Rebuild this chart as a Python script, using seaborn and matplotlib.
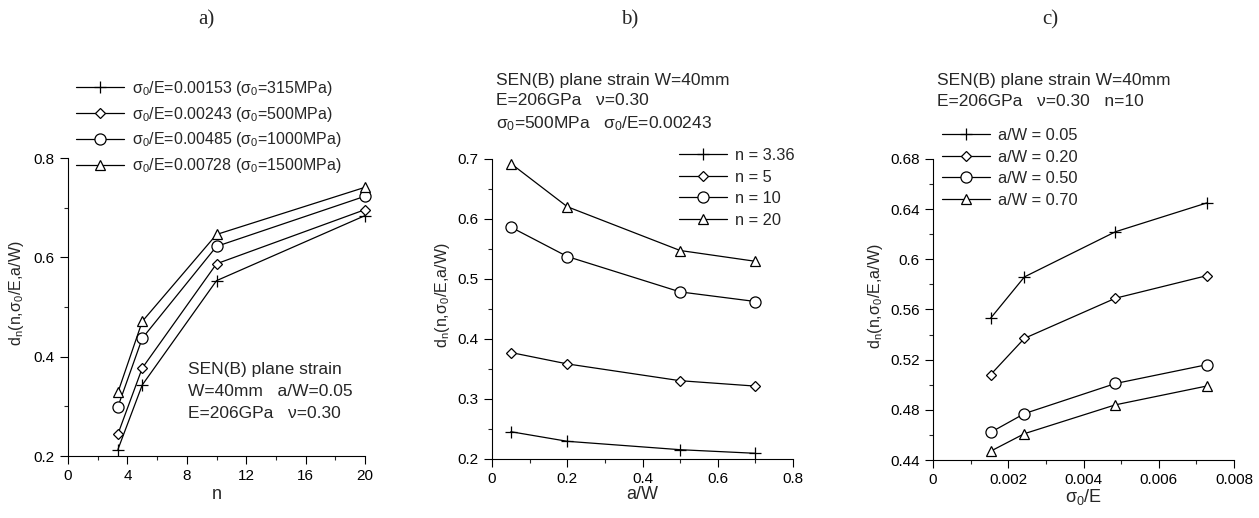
import matplotlib
matplotlib.use("Agg")
import matplotlib.pyplot as plt
from matplotlib.ticker import MultipleLocator, FormatStrFormatter
import seaborn as sns

sns.set_style("ticks")
plt.rcParams['font.family'] = ['Liberation Sans', 'DejaVu Sans']
plt.rcParams['mathtext.fontset'] = 'custom'
plt.rcParams['mathtext.rm'] = 'Liberation Sans'
plt.rcParams['mathtext.it'] = 'Liberation Sans:italic'
plt.rcParams['mathtext.default'] = 'regular'

# panel a: d_n vs n for several sigma0/E
n_vals = [3.36, 5, 10, 20]
a_labels = [r'$\sigma_0$/E=0.00153 ($\sigma_0$=315MPa)',
            r'$\sigma_0$/E=0.00243 ($\sigma_0$=500MPa)',
            r'$\sigma_0$/E=0.00485 ($\sigma_0$=1000MPa)',
            r'$\sigma_0$/E=0.00728 ($\sigma_0$=1500MPa)']
a_s1 = [0.213, 0.343, 0.553, 0.684]
a_s2 = [0.244, 0.377, 0.587, 0.696]
a_s3 = [0.299, 0.437, 0.622, 0.723]
a_s4 = [0.328, 0.471, 0.646, 0.741]

# panel b: d_n vs a/W for several n
aw_vals = [0.05, 0.2, 0.5, 0.7]
b_labels = ['n = 3.36', 'n = 5', 'n = 10', 'n = 20']
b_s1 = [0.245, 0.229, 0.215, 0.209]
b_s2 = [0.377, 0.358, 0.330, 0.321]
b_s3 = [0.586, 0.537, 0.478, 0.462]
b_s4 = [0.692, 0.620, 0.547, 0.529]

# panel c: d_n vs sigma0/E for several a/W
se_vals = [0.00153, 0.00243, 0.00485, 0.00728]
c_labels = ['a/W = 0.05', 'a/W = 0.20', 'a/W = 0.50', 'a/W = 0.70']
c_s1 = [0.553, 0.586, 0.622, 0.645]
c_s2 = [0.508, 0.537, 0.569, 0.587]
c_s3 = [0.462, 0.477, 0.501, 0.516]
c_s4 = [0.447, 0.461, 0.484, 0.499]

markers = ['+', 'D', 'o', '^']
msizes = [9, 5, 8, 7]
ylab = r'd$_n$(n,$\sigma_0$/E,a/W)'

W, H = 1259, 518
fig = plt.figure(figsize=(12.59, 5.18), dpi=100)
ax_a = fig.add_axes([68/W, 1-456/H, 297/W, 298/H])
ax_b = fig.add_axes([492/W, 1-458.7/H, 301/W, 300/H])
ax_c = fig.add_axes([933/W, 1-460/H, 301/W, 301/H])


def draw(ax, x, series, labels, ylab_x):
    for ys, lab, m, ms in zip(series, labels, markers, msizes):
        sns.lineplot(x=x, y=ys, ax=ax, color='black', lw=0.9, marker=m,
                     markersize=ms, markerfacecolor='white',
                     markeredgecolor='black', markeredgewidth=0.9,
                     label=lab, clip_on=False, zorder=3)
    sns.despine(ax=ax)
    ax.tick_params(which='major', direction='out', length=6, width=0.8,
                   labelsize=11, colors='black')
    ax.tick_params(which='minor', direction='out', length=3, width=0.8)
    for s in ax.spines.values():
        s.set_linewidth(0.8)
        s.set_color('black')
    ax.set_ylabel(ylab, fontsize=11.5)
    ax.yaxis.set_label_coords(ylab_x, 0.545)
    ax.yaxis.label.set_va('center')


draw(ax_a, n_vals, [a_s1, a_s2, a_s3, a_s4], a_labels, -0.173)
ax_a.set_xlim(0, 20)
ax_a.set_ylim(0.2, 0.8)
ax_a.xaxis.set_major_locator(MultipleLocator(4))
ax_a.xaxis.set_minor_locator(MultipleLocator(2))
ax_a.yaxis.set_major_locator(MultipleLocator(0.2))
ax_a.yaxis.set_minor_locator(MultipleLocator(0.1))
ax_a.yaxis.set_major_formatter(FormatStrFormatter('%.1f'))
ax_a.set_xlabel('n', fontsize=13, labelpad=2)
ax_a.legend(loc='upper left', bbox_to_anchor=(76/W, 1-79/H),
            bbox_transform=fig.transFigure, frameon=False, fontsize=11.5,
            handlelength=3.0, handletextpad=0.5, labelspacing=0.42,
            borderpad=0, borderaxespad=0)
ax_a.text(188/W, 1-362/H,
          'SEN(B) plane strain\nW=40mm   a/W=0.05\nE=206GPa   \u03bd=0.30',
          transform=fig.transFigure, fontsize=12.5, va='top', ha='left',
          linespacing=1.6)

draw(ax_b, aw_vals, [b_s1, b_s2, b_s3, b_s4], b_labels, -0.163)
ax_b.set_xlim(0, 0.8)
ax_b.set_ylim(0.2, 0.7)
ax_b.xaxis.set_major_locator(MultipleLocator(0.2))
ax_b.xaxis.set_minor_locator(MultipleLocator(0.1))
ax_b.yaxis.set_major_locator(MultipleLocator(0.1))
ax_b.yaxis.set_minor_locator(MultipleLocator(0.05))
ax_b.xaxis.set_major_formatter(plt.FuncFormatter(lambda v, p: '0' if v == 0 else f'{v:.1f}'))
ax_b.yaxis.set_major_formatter(FormatStrFormatter('%.1f'))
ax_b.set_xlabel('a/W', fontsize=13, labelpad=0)
ax_b.legend(loc='upper left', bbox_to_anchor=(679/W, 1-148/H),
            bbox_transform=fig.transFigure, frameon=False, fontsize=11.8,
            handlelength=2.9, handletextpad=0.5, labelspacing=0.4,
            borderpad=0, borderaxespad=0)
ax_b.text(496/W, 1-73/H,
          'SEN(B) plane strain W=40mm\nE=206GPa   \u03bd=0.30\n'
          r'$\sigma_0$=500MPa   $\sigma_0$/E=0.00243',
          transform=fig.transFigure, fontsize=12.5, va='top', ha='left',
          linespacing=1.45)

draw(ax_c, se_vals, [c_s1, c_s2, c_s3, c_s4], c_labels, -0.19)
ax_c.set_xlim(0, 0.008)
ax_c.set_ylim(0.44, 0.68)
ax_c.xaxis.set_major_locator(MultipleLocator(0.002))
ax_c.xaxis.set_minor_locator(MultipleLocator(0.001))
ax_c.yaxis.set_major_locator(MultipleLocator(0.04))
ax_c.yaxis.set_minor_locator(MultipleLocator(0.02))
ax_c.xaxis.set_major_formatter(plt.FuncFormatter(lambda v, p: '0' if abs(v) < 1e-12 else f'{v:.3f}'))
ax_c.yaxis.set_major_formatter(plt.FuncFormatter(lambda v, p: f'{v:.2f}'.rstrip('0')))
ax_c.set_xlabel(r'$\sigma_0$/E', fontsize=13, labelpad=0)
ax_c.legend(loc='upper left', bbox_to_anchor=(942/W, 1-128/H),
            bbox_transform=fig.transFigure, frameon=False, fontsize=11.8,
            handlelength=2.9, handletextpad=0.5, labelspacing=0.4,
            borderpad=0, borderaxespad=0)
ax_c.text(937/W, 1-73/H,
          'SEN(B) plane strain W=40mm\nE=206GPa   \u03bd=0.30   n=10',
          transform=fig.transFigure, fontsize=12.5, va='top', ha='left',
          linespacing=1.5)

for lab, xc in zip(['a)', 'b)', 'c)'], [206, 630, 1050]):
    fig.text(xc/W, 1-20/H, lab, family='Liberation Serif', fontsize=15,
             ha='center', va='center')

fig.savefig('out.png', dpi=100)
